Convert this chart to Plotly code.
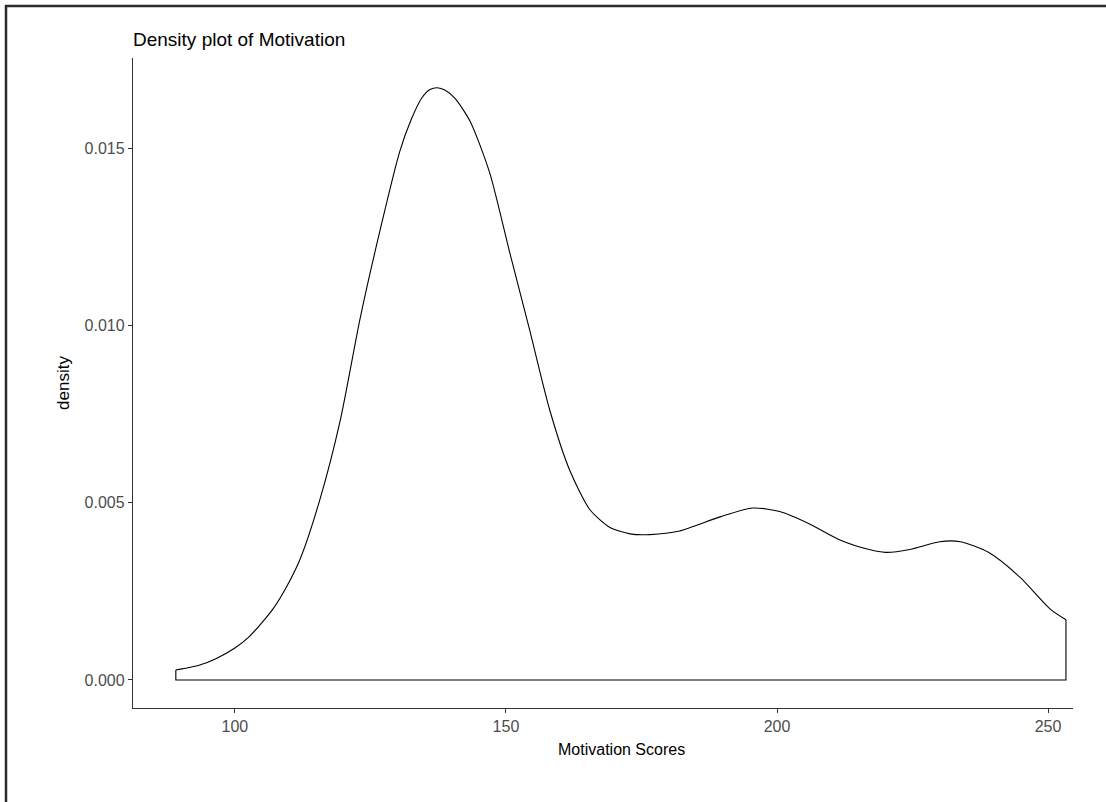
import plotly.graph_objects as go

# Density estimate
scores = [89.1, 91.5, 93.5, 96.5, 100.0, 102.5, 104.6, 107.0, 109.2, 112.0, 115.7, 119.4, 123.1,
          126.8, 130.4, 132.5, 134.5, 136.0, 137.3, 138.8, 140.6, 143.4, 147.0, 150.7, 154.4,
          158.1, 161.8, 165.5, 169.2, 172.9, 176.6, 182.0, 189.5, 195.5, 200.5, 206.0, 211.6,
          217.0, 220.0, 224.5, 230.0, 233.8, 239.0, 244.8, 250.4, 253.3]
density = [0.00028, 0.00035, 0.00042, 0.00060, 0.00090, 0.00120, 0.00155, 0.00200, 0.00254,
           0.00340, 0.00510, 0.00730, 0.01020, 0.01270, 0.01490, 0.01580, 0.01642, 0.01665,
           0.01670, 0.01663, 0.01640, 0.01575, 0.01430, 0.01205, 0.00985, 0.00760, 0.00590,
           0.00480, 0.00430, 0.00412, 0.00410, 0.00420, 0.00460, 0.00485, 0.00475, 0.00440,
           0.00395, 0.00368, 0.00360, 0.00368, 0.00390, 0.00390, 0.00360, 0.00290, 0.00200,
           0.00170]

x_ticks = [100, 150, 200, 250]
y_ticks = [0.000, 0.005, 0.010, 0.015]
y_tick_labels = ["0.000", "0.005", "0.010", "0.015"]

title_text = "Density plot of Motivation"
x_title = "Motivation Scores"
y_title = "density"

W, H = 1106, 802
L, R, T, B = 133, 1106 - 1073, 58, 802 - 708
pw, ph = W - L - R, H - T - B

fig = go.Figure()
fig.add_trace(go.Scatter(x=scores, y=density, mode="lines",
                         line=dict(color="black", width=1.1, shape="spline", smoothing=0.7),
                         hoverinfo="skip", showlegend=False))
# close the polygon down to the baseline, as geom_density does
fig.add_trace(go.Scatter(x=[scores[-1], scores[-1], scores[0], scores[0]],
                         y=[density[-1], 0.0, 0.0, density[0]], mode="lines",
                         line=dict(color="black", width=1.1),
                         hoverinfo="skip", showlegend=False))

font_family = "Liberation Sans, Arial, sans-serif"

def px2paper_x(p):
    return (p - L) / pw

def px2paper_y(p):
    return (H - B - p) / ph

fig.update_layout(
    width=W, height=H,
    margin=dict(l=L, r=R, t=T, b=B),
    paper_bgcolor="white", plot_bgcolor="white",
    font=dict(family=font_family, color="black"),
    showlegend=False,
    title=dict(text=title_text, x=L / W, xanchor="left", y=1 - 39 / H, yanchor="middle",
               font=dict(size=19, color="black", family=font_family)),
    xaxis=dict(range=[81.2, 254.6], tickvals=x_ticks, ticks="outside", ticklen=4,
               tickcolor="#333333", tickwidth=1, showline=True, linecolor="#333333",
               linewidth=1.3, showgrid=False, zeroline=False,
               tickfont=dict(size=16, color="#4D4D4D")),
    yaxis=dict(range=[-0.00079, 0.01754], tickvals=y_ticks, ticktext=y_tick_labels,
               ticks="outside", ticklen=4, tickcolor="#333333", tickwidth=1,
               showline=True, linecolor="#333333", linewidth=1.3, showgrid=False,
               zeroline=False, tickfont=dict(size=16, color="#4D4D4D"),
               title=dict(text=y_title, font=dict(size=17, color="black"), standoff=10)),
    annotations=[dict(text=x_title, xref="paper", yref="paper",
                      x=px2paper_x(621), y=px2paper_y(750), xanchor="center", yanchor="middle",
                      showarrow=False, font=dict(size=16, color="black"))],
    shapes=[
        dict(type="line", xref="paper", yref="paper", x0=px2paper_x(6), x1=px2paper_x(6),
             y0=px2paper_y(5), y1=px2paper_y(H + 5), line=dict(color="#2b2b2b", width=2.5)),
        dict(type="line", xref="paper", yref="paper", x0=px2paper_x(5), x1=px2paper_x(W + 5),
             y0=px2paper_y(6), y1=px2paper_y(6), line=dict(color="#2b2b2b", width=2.5)),
    ],
)

fig.write_html("out.html")
